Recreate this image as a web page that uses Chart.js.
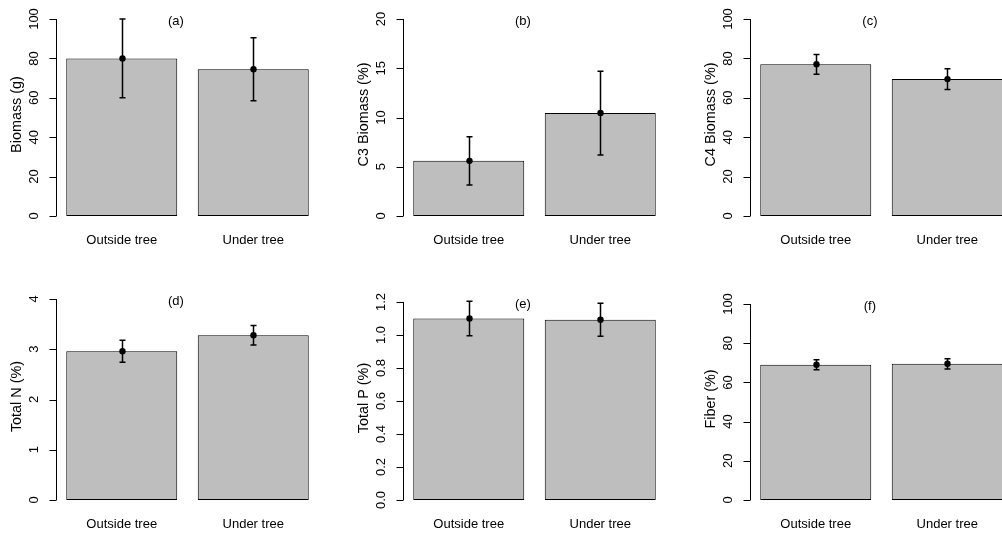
<!DOCTYPE html>
<html>
<head>
<meta charset="utf-8">
<script src="https://cdn.jsdelivr.net/npm/chart.js@4"></script>
<style>
    html, body { margin: 0; padding: 0; width: 1002px; height: 533px; overflow: hidden; background: #fff; }
    canvas { position: absolute; }
</style>
</head>
<body>
<canvas id="pa"></canvas>
<canvas id="pb"></canvas>
<canvas id="pc"></canvas>
<canvas id="pd"></canvas>
<canvas id="pe"></canvas>
<canvas id="pf"></canvas>
<script>
// данные (среднее и полуразмах ошибки)
const categories = ['Outside tree', 'Under tree'];

const biomass = [80, 74.5];
const biomassErr = [20, 16];
const c3Biomass = [5.6, 10.45];
const c3BiomassErr = [2.45, 4.25];
const c4Biomass = [77, 69.5];
const c4BiomassErr = [5, 5.3];
const totalN = [2.96, 3.28];
const totalNErr = [0.22, 0.195];
const totalP = [1.10, 1.093];
const totalPErr = [0.104, 0.1];
const fiber = [69, 69.5];
const fiberErr = [2.5, 2.6];

// подписи делений оси Y
const ticks100 = ['0', '20', '40', '60', '80', '100'];
const ticksC3 = ['0', '5', '10', '15', '20'];
const ticksN = ['0', '1', '2', '3', '4'];
const ticksP = ['0.0', '0.2', '0.4', '0.6', '0.8', '1.0', '1.2'];

const FONT = '"Liberation Sans", Arial, sans-serif';

const panels = [
    { id: 'pa', tag: '(a)', title: 'Biomass (g)', values: biomass, errors: biomassErr, ticks: ticks100, col: 0, row: 0, padTop: 19 },
    { id: 'pb', tag: '(b)', title: 'C3 Biomass (%)', values: c3Biomass, errors: c3BiomassErr, ticks: ticksC3, col: 1, row: 0, padTop: 19 },
    { id: 'pc', tag: '(c)', title: 'C4 Biomass (%)', values: c4Biomass, errors: c4BiomassErr, ticks: ticks100, col: 2, row: 0, padTop: 19 },
    { id: 'pd', tag: '(d)', title: 'Total N (%)', values: totalN, errors: totalNErr, ticks: ticksN, col: 0, row: 1, padTop: 33 },
    { id: 'pe', tag: '(e)', title: 'Total P (%)', values: totalP, errors: totalPErr, ticks: ticksP, col: 1, row: 1, padTop: 36 },
    { id: 'pf', tag: '(f)', title: 'Fiber (%)', values: fiber, errors: fiberErr, ticks: ticks100, col: 2, row: 1, padTop: 38 }
];

// оси, подписи и планки погрешностей рисуем сами, в стиле R
const rStyle = {
    id: 'rStyle',
    afterDatasetsDraw(chart, args, opts) {
        const ctx = chart.ctx;
        const area = chart.chartArea;
        const x = chart.scales.x;
        const y = chart.scales.y;
        const p = opts.panel;
        ctx.save();
        ctx.strokeStyle = '#000';
        ctx.fillStyle = '#000';

        // планки погрешностей и точки
        ctx.lineWidth = 1.5;
        p.values.forEach((v, i) => {
            const px = Math.round(x.getPixelForValue(i)) + 0.5;
            const hi = y.getPixelForValue(v + p.errors[i]);
            const lo = y.getPixelForValue(v - p.errors[i]);
            ctx.beginPath();
            ctx.moveTo(px, hi); ctx.lineTo(px, lo);
            ctx.moveTo(px - 3, hi); ctx.lineTo(px + 3, hi);
            ctx.moveTo(px - 3, lo); ctx.lineTo(px + 3, lo);
            ctx.stroke();
            ctx.beginPath();
            ctx.arc(px, y.getPixelForValue(v), 3.2, 0, Math.PI * 2);
            ctx.fill();
        });

        // ось Y
        ctx.lineWidth = 1;
        const ax = Math.round(area.left) + 0.5;
        const top = y.getPixelForValue(parseFloat(p.ticks[p.ticks.length - 1]));
        const bottom = y.getPixelForValue(0);
        ctx.beginPath();
        ctx.moveTo(ax, top); ctx.lineTo(ax, bottom);
        p.ticks.forEach(t => {
            const ty = Math.round(y.getPixelForValue(parseFloat(t))) + 0.5;
            ctx.moveTo(ax - 7, ty); ctx.lineTo(ax, ty);
        });
        ctx.stroke();

        ctx.font = '13px ' + FONT;
        ctx.textAlign = 'center';
        ctx.textBaseline = 'middle';
        p.ticks.forEach(t => {
            ctx.save();
            ctx.translate(area.left - 22, y.getPixelForValue(parseFloat(t)));
            ctx.rotate(-Math.PI / 2);
            ctx.fillText(t, 0, 0);
            ctx.restore();
        });

        // название оси
        ctx.save();
        ctx.font = '14.4px ' + FONT;
        ctx.translate(area.left - 39, (top + bottom) / 2 - 3);
        ctx.rotate(-Math.PI / 2);
        ctx.fillText(p.title, 0, 0);
        ctx.restore();

        // категории
        ctx.font = '13px ' + FONT;
        categories.forEach((c, i) => {
            ctx.fillText(c, x.getPixelForValue(i), bottom + 24.5);
        });

        // метка панели
        ctx.font = '13px ' + FONT;
        ctx.fillText(p.tag, area.left + (area.right - area.left) * 0.456, top + 2);

        ctx.restore();
    }
};

document.addEventListener('DOMContentLoaded', () => {
    panels.forEach(p => {
        const canvas = document.getElementById(p.id);
        const w = 347;
        const h = p.row === 0 ? 266 : 267;
        canvas.width = w;
        canvas.height = h;
        canvas.style.left = (p.col * 347) + 'px';
        canvas.style.top = (p.row === 0 ? 0 : 266) + 'px';
        const padBottom = p.row === 0 ? 50 : 33;

        new Chart(canvas.getContext('2d'), {
            type: 'bar',
            data: {
                labels: categories,
                datasets: [{
                    data: p.values,
                    backgroundColor: '#bebebe',
                    borderColor: '#000',
                    borderWidth: 1,
                    borderSkipped: false,
                    barPercentage: 0.844,
                    categoryPercentage: 1
                }]
            },
            plugins: [rStyle],
            options: {
                responsive: false,
                animation: false,
                devicePixelRatio: 1,
                layout: { padding: { left: 56, right: 28, top: p.padTop, bottom: padBottom } },
                plugins: {
                    legend: { display: false },
                    tooltip: { enabled: false },
                    rStyle: { panel: p }
                },
                scales: {
                    x: { display: false, offset: true },
                    y: {
                        display: false,
                        min: 0,
                        max: parseFloat(p.ticks[p.ticks.length - 1])
                    }
                }
            }
        });
    });
});
</script>
</body>
</html>
